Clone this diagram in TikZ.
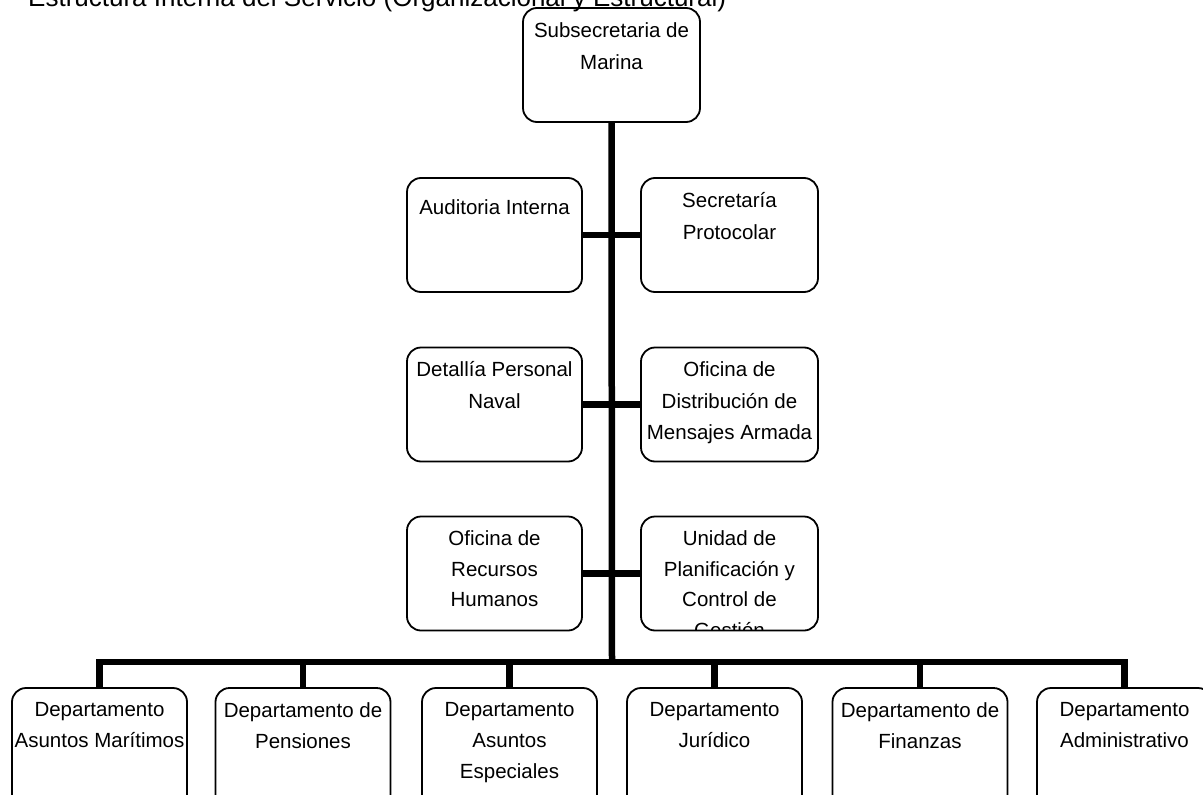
\documentclass[tikz,border=0pt]{standalone}
\usepackage{fontspec}
\setmainfont{Liberation Sans}
\begin{document}
\begin{tikzpicture}[x=1pt,y=-1pt,
  box/.style={draw, line width=1.8pt, rounded corners=14pt, minimum width=175pt, minimum height=114pt, inner sep=0pt},
  bbox/.style={box, minimum height=150pt},
  lbl/.style={anchor=north, align=center, inner sep=0pt, font=\fontsize{20.5}{32.5}\selectfont, execute at begin node={\rule{0pt}{22pt}}},
  conn/.style={line width=6.5pt}]
\clip (0,0) rectangle (1203,795);
\fill[white] (0,0) rectangle (1203,795);
% title
\node[anchor=base west, inner sep=0pt, font=\fontsize{26}{30}\selectfont] (title) at (28,6) {Estructura Interna del Servicio (Organizacional y Estructural)};
% boxes
\node[box, minimum width=177pt] (top) at (611.5,65) {};
\node[box] (a1) at (494.5,235) {};
\node[box, minimum width=177pt] (a2) at (729.5,235) {};
\node[box] (d1) at (494.5,404.5) {};
\node[box, minimum width=177pt] (d2) at (729.5,404.5) {};
\node[box] (o1) at (494.5,573.5) {};
\node[box, minimum width=177pt] (o2) at (729.5,573.5) {};
\node[bbox] (b1) at (99.5,763) {};
\node[bbox] (b2) at (303,763) {};
\node[bbox] (b3) at (509.5,763) {};
\node[bbox] (b4) at (714.5,763) {};
\node[bbox] (b5) at (920,763) {};
\node[bbox] (b6) at (1124.5,763) {};
% labels
\node[lbl] (tt) at ([yshift=-15pt]top.north) {Subsecretaria de\\Marina};
\node[lbl] (ta1) at ([yshift=-15pt]a1.north) {Auditoria Interna};
\node[lbl] (ta2) at ([yshift=-15pt]a2.north) {Secretaría\\Protocolar};
\node[lbl, font=\fontsize{20.5}{31.5}\selectfont] (td1) at ([yshift=-15pt]d1.north) {Detallía Personal\\Naval};
\node[lbl, font=\fontsize{20.5}{31.5}\selectfont] (td2) at ([yshift=-15pt]d2.north) {Oficina de\\Distribución de\\Mensajes Armada};
\node[lbl, font=\fontsize{20.5}{30.5}\selectfont] (to1) at ([yshift=-15pt]o1.north) {Oficina de\\Recursos\\Humanos};
\begin{scope}
\clip[rounded corners=14pt] ([xshift=1pt,yshift=-1pt]o2.north west) rectangle ([xshift=-1pt,yshift=1pt]o2.south east);
\node[lbl, font=\fontsize{20.5}{30.5}\selectfont] (to2) at ([yshift=-15pt]o2.north) {Unidad de\\Planificación y\\Control de\\Gestión};
\end{scope}
\node[lbl, font=\fontsize{20.5}{31}\selectfont] (tb1) at ([yshift=-15pt]b1.north) {Departamento\\Asuntos Marítimos};
\node[lbl, font=\fontsize{20.5}{31}\selectfont] (tb2) at ([yshift=-15pt]b2.north) {Departamento de\\Pensiones};
\node[lbl, font=\fontsize{20.5}{31}\selectfont] (tb3) at ([yshift=-15pt]b3.north) {Departamento\\Asuntos\\Especiales};
\node[lbl, font=\fontsize{20.5}{31}\selectfont] (tb4) at ([yshift=-15pt]b4.north) {Departamento\\Jurídico};
\node[lbl, font=\fontsize{20.5}{31}\selectfont] (tb5) at ([yshift=-15pt]b5.north) {Departamento de\\Finanzas};
\node[lbl, font=\fontsize{20.5}{31}\selectfont] (tb6) at ([yshift=-15pt]b6.north) {Departamento\\Administrativo};
% connectors
\coordinate (bus) at (612,662);
\draw[conn] (top.south) -- (bus);
\draw[conn] (a1.east) -- (a2.west);
\draw[conn] (d1.east) -- (d2.west);
\draw[conn] (o1.east) -- (o2.west);
\draw[conn] (b1.north) |- (bus) -| (b6.north);
\draw[conn] (b2.north) -- (b2.north |- bus);
\draw[conn] (b3.north) -- (b3.north |- bus);
\draw[conn] (b4.north) -- (b4.north |- bus);
\draw[conn] (b5.north) -- (b5.north |- bus);
\end{tikzpicture}
\end{document}
